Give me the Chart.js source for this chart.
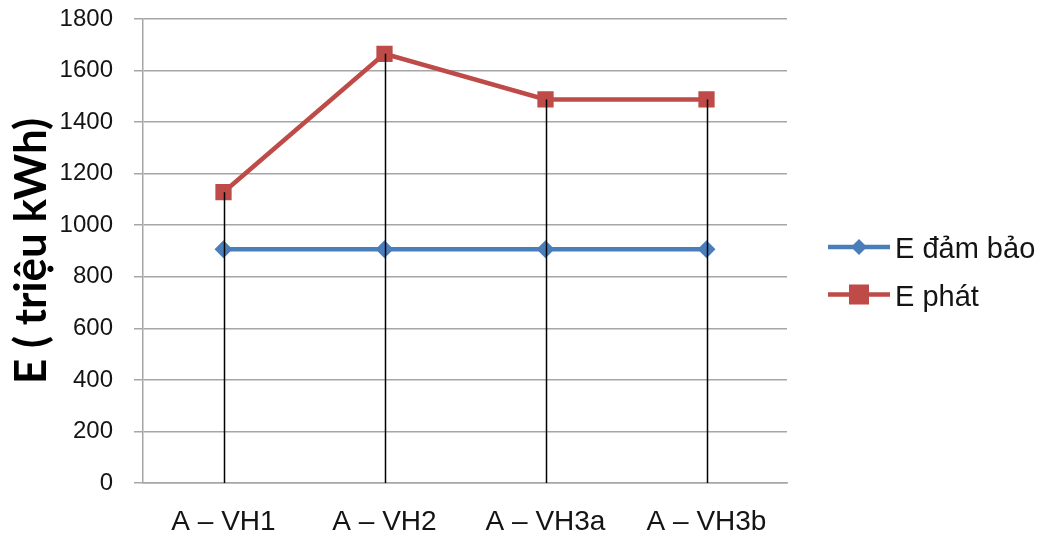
<!DOCTYPE html>
<html>
<head>
<meta charset="utf-8">
<script src="https://cdn.jsdelivr.net/npm/chart.js@4"></script>
<style>
  html, body { margin: 0; padding: 0; background: #fff; }
  #wrap { width: 1049px; height: 538px; position: relative; }
</style>
</head>
<body>
<div id="wrap"><canvas id="c" width="1049" height="538"></canvas></div>
<script>
// Energy per operating scenario (million kWh)
const categories = ['A \u2013 VH1', 'A \u2013 VH2', 'A \u2013 VH3a', 'A \u2013 VH3b'];
const eDamBao = [907, 907, 907, 907];
const ePhat = [1128, 1665, 1488, 1488];
const yTicks = [0, 200, 400, 600, 800, 1000, 1200, 1400, 1600, 1800];

const BLUE = '#4A7EBB';
const RED = '#BE4B48';
const GRID = '#a6a6a6';
const TEXT = '#141414';
const FONT = '"Liberation Sans", Arial, sans-serif';

// Black drop lines from the highest point of each category down to the axis
const dropLines = {
  id: 'dropLines',
  afterDatasetsDraw(chart) {
    const { ctx, scales: { x, y } } = chart;
    ctx.save();
    ctx.strokeStyle = '#000';
    ctx.lineWidth = 1.5;
    categories.forEach((c, i) => {
      const top = Math.max(eDamBao[i], ePhat[i]);
      const px = Math.round(x.getPixelForValue(i)) + 0.5;
      ctx.beginPath();
      ctx.moveTo(px, y.getPixelForValue(top));
      ctx.lineTo(px, y.getPixelForValue(0));
      ctx.stroke();
    });
    ctx.restore();
  }
};

// Legend with a line-and-marker sample for each series
const lineLegend = {
  id: 'lineLegend',
  afterDraw(chart) {
    const { ctx } = chart;
    const x0 = 828, x1 = 890, xm = 859;
    ctx.save();
    chart.data.datasets.forEach((ds, i) => {
      const yy = 247 + i * 47.5;
      ctx.strokeStyle = ds.borderColor;
      ctx.lineWidth = 4.5;
      ctx.beginPath();
      ctx.moveTo(x0, yy);
      ctx.lineTo(x1, yy);
      ctx.stroke();
      ctx.fillStyle = ds.pointBackgroundColor;
      if (ds.pointStyle === 'rectRot') {
        ctx.beginPath();
        ctx.moveTo(xm, yy - 8);
        ctx.lineTo(xm + 8, yy);
        ctx.lineTo(xm, yy + 8);
        ctx.lineTo(xm - 8, yy);
        ctx.closePath();
        ctx.fill();
      } else {
        ctx.fillRect(xm - 10, yy - 10, 20, 20);
      }
      ctx.fillStyle = TEXT;
      ctx.font = '29px ' + FONT;
      ctx.textBaseline = 'middle';
      ctx.textAlign = 'left';
      ctx.fillText(ds.label, 895, yy + 3);
    });
    ctx.restore();
  }
};

new Chart(document.getElementById('c'), {
  type: 'line',
  data: {
    labels: categories,
    datasets: [
      {
        label: 'E \u0111\u1ea3m b\u1ea3o',
        data: eDamBao,
        borderColor: BLUE,
        backgroundColor: BLUE,
        pointBackgroundColor: BLUE,
        pointBorderColor: BLUE,
        borderWidth: 4.5,
        pointStyle: 'rectRot',
        pointRadius: 9,
        pointBorderWidth: 0,
        tension: 0
      },
      {
        label: 'E ph\u00e1t',
        data: ePhat,
        borderColor: RED,
        backgroundColor: RED,
        pointBackgroundColor: RED,
        pointBorderColor: RED,
        borderWidth: 4.5,
        pointStyle: 'rect',
        pointRadius: 11.5,
        pointBorderWidth: 0,
        tension: 0
      }
    ]
  },
  options: {
    responsive: false,
    animation: false,
    devicePixelRatio: 1,
    layout: { padding: { top: 19, right: 262, bottom: 0, left: 0 } },
    plugins: {
      legend: { display: false },
      tooltip: { enabled: false }
    },
    scales: {
      x: {
        offset: true,
        grid: { display: false, drawTicks: false },
        border: { display: true, color: GRID, width: 1.5 },
        ticks: {
          color: TEXT,
          padding: 22,
          font: { family: FONT, size: 28 }
        },
        afterFit(scale) {
          scale.height = 55;
          scale.paddingLeft = 0;
          scale.paddingRight = 0;
        }
      },
      y: {
        min: 0,
        max: 1800,
        afterBuildTicks(scale) { scale.ticks = yTicks.map(v => ({ value: v })); },
        grid: { color: GRID, lineWidth: 1.5, tickLength: 9 },
        border: { display: true, color: GRID, width: 1.5 },
        ticks: {
          color: TEXT,
          padding: 21,
          font: { family: FONT, size: 24 },
          callback: (v) => String(v)
        },
        title: {
          display: true,
          text: 'E ( tri\u1ec7u kWh)',
          color: '#000',
          font: { family: 'Lato, "Open Sans", sans-serif', size: 44, weight: 'bold' },
          padding: { top: 5, bottom: 0 }
        },
        afterFit(scale) {
          scale.width = 143;
          scale.paddingTop = 0;
          scale.paddingBottom = 0;
        }
      }
    }
  },
  plugins: [dropLines, lineLegend]
});
</script>
</body>
</html>
